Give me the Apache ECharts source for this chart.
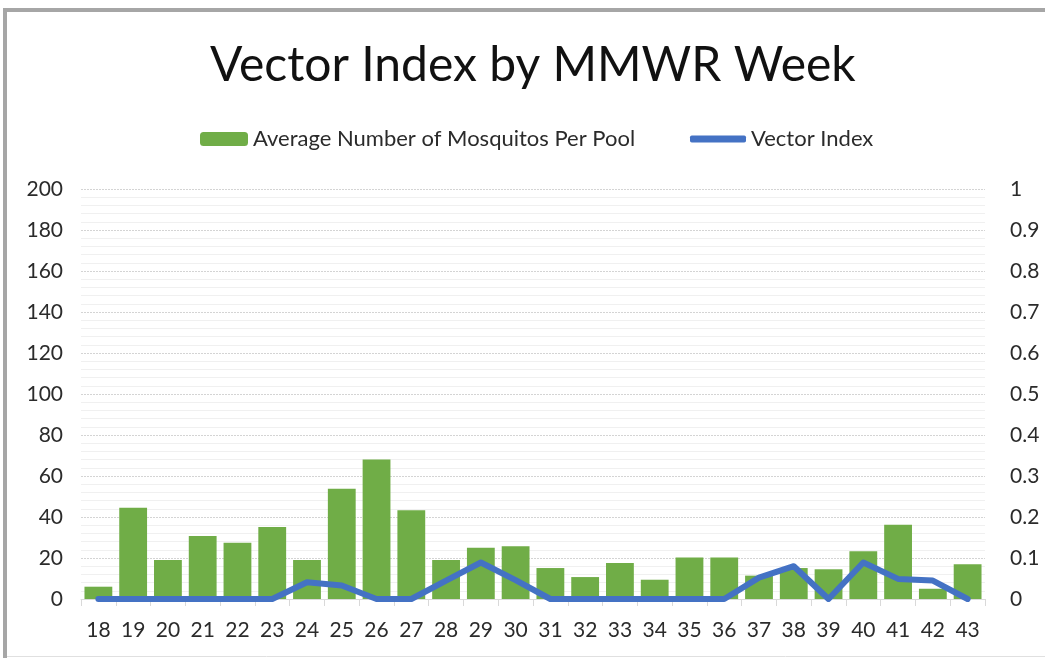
<!DOCTYPE html>
<html>
<head>
<meta charset="utf-8">
<script src="https://cdn.jsdelivr.net/npm/echarts@6/dist/echarts.min.js"></script>
<style>
  body { margin: 0; background: #fff; }
  #chart { width: 1045px; height: 658px; }
</style>
</head>
<body>
<div id="chart"></div>
<script>
// MMWR weeks
const weeks = ['18', '19', '20', '21', '22', '23', '24', '25', '26', '27', '28', '29', '30',
  '31', '32', '33', '34', '35', '36', '37', '38', '39', '40', '41', '42', '43'];
// average number of mosquitos per pool (left axis)
const avgPerPool = [6, 44.5, 19, 30.7, 27.5, 35.1, 19, 53.8, 68.1, 43.3, 19, 25, 25.7,
  15.1, 10.7, 17.6, 9.4, 20.2, 20.2, 11.4, 15.1, 14.5, 23.3, 36.2, 5, 16.9];
// vector index (right axis)
const vectorIndex = [0, 0, 0, 0, 0, 0, 0.041, 0.033, 0, 0, 0.045, 0.089, 0.046,
  0, 0, 0, 0, 0, 0, 0.052, 0.08, 0, 0.089, 0.049, 0.045, 0];

const font = 'Lato';
const textColor = '#2b2b2b';

const chart = echarts.init(document.getElementById('chart'));
chart.setOption({
  animation: false,
  textStyle: { fontFamily: font },
  title: {
    text: 'Vector Index by MMWR Week',
    left: 205,
    top: 37,
    textStyle: { fontFamily: font, fontSize: 48, fontWeight: 'normal', color: '#111' }
  },
  legend: [
    {
      data: ['Average Number of Mosquitos Per Pool'],
      left: 200, top: 128, padding: 0,
      itemWidth: 48, itemHeight: 14,
      textStyle: { fontFamily: font, fontSize: 22, color: textColor }
    },
    {
      data: [{ name: 'Vector Index', icon: 'roundRect' }],
      left: 690, top: 128, padding: 0,
      itemWidth: 56, itemHeight: 7,
      textStyle: { fontFamily: font, fontSize: 22, color: textColor }
    }
  ],
  graphic: [
    { type: 'line', shape: { x1: 5, y1: 10, x2: 1045, y2: 10 }, style: { stroke: '#a6a6a6', lineWidth: 4 } },
    { type: 'line', shape: { x1: 5, y1: 8, x2: 5, y2: 658 }, style: { stroke: '#a6a6a6', lineWidth: 4 } },
    { type: 'line', shape: { x1: 7, y1: 656.5, x2: 1045, y2: 656.5 }, style: { stroke: '#e0e0e0', lineWidth: 1 } }
  ],
  grid: { left: 81, right: 60, top: 189, bottom: 59 },
  xAxis: {
    type: 'category',
    data: weeks,
    axisLine: { lineStyle: { color: '#d9d9d9' } },
    axisTick: { show: true, length: 7, lineStyle: { color: '#d9d9d9' } },
    axisLabel: { fontFamily: font, fontSize: 21, color: textColor, margin: 21 }
  },
  yAxis: [
    {
      type: 'value', min: 0, max: 200, interval: 20,
      axisLabel: { fontFamily: font, fontSize: 21, color: textColor, margin: 18 },
      splitLine: { lineStyle: { color: '#d4d4d4', type: [2, 1] } },
      minorTick: { show: false, splitNumber: 5 },
      minorSplitLine: { show: true, lineStyle: { color: '#f0f0f0' } }
    },
    {
      type: 'value', min: 0, max: 1, interval: 0.1,
      axisLabel: { fontFamily: font, fontSize: 21, color: textColor, margin: 25 },
      splitLine: { show: false }
    }
  ],
  series: [
    {
      name: 'Average Number of Mosquitos Per Pool',
      type: 'bar',
      data: avgPerPool,
      barCategoryGap: '20%',
      itemStyle: { color: '#70ad47' }
    },
    {
      name: 'Vector Index',
      type: 'line',
      yAxisIndex: 1,
      data: vectorIndex,
      symbol: 'none',
      lineStyle: { color: '#4472c4', width: 6, cap: 'round', join: 'round' },
      itemStyle: { color: '#4472c4' }
    }
  ]
});
</script>
</body>
</html>
